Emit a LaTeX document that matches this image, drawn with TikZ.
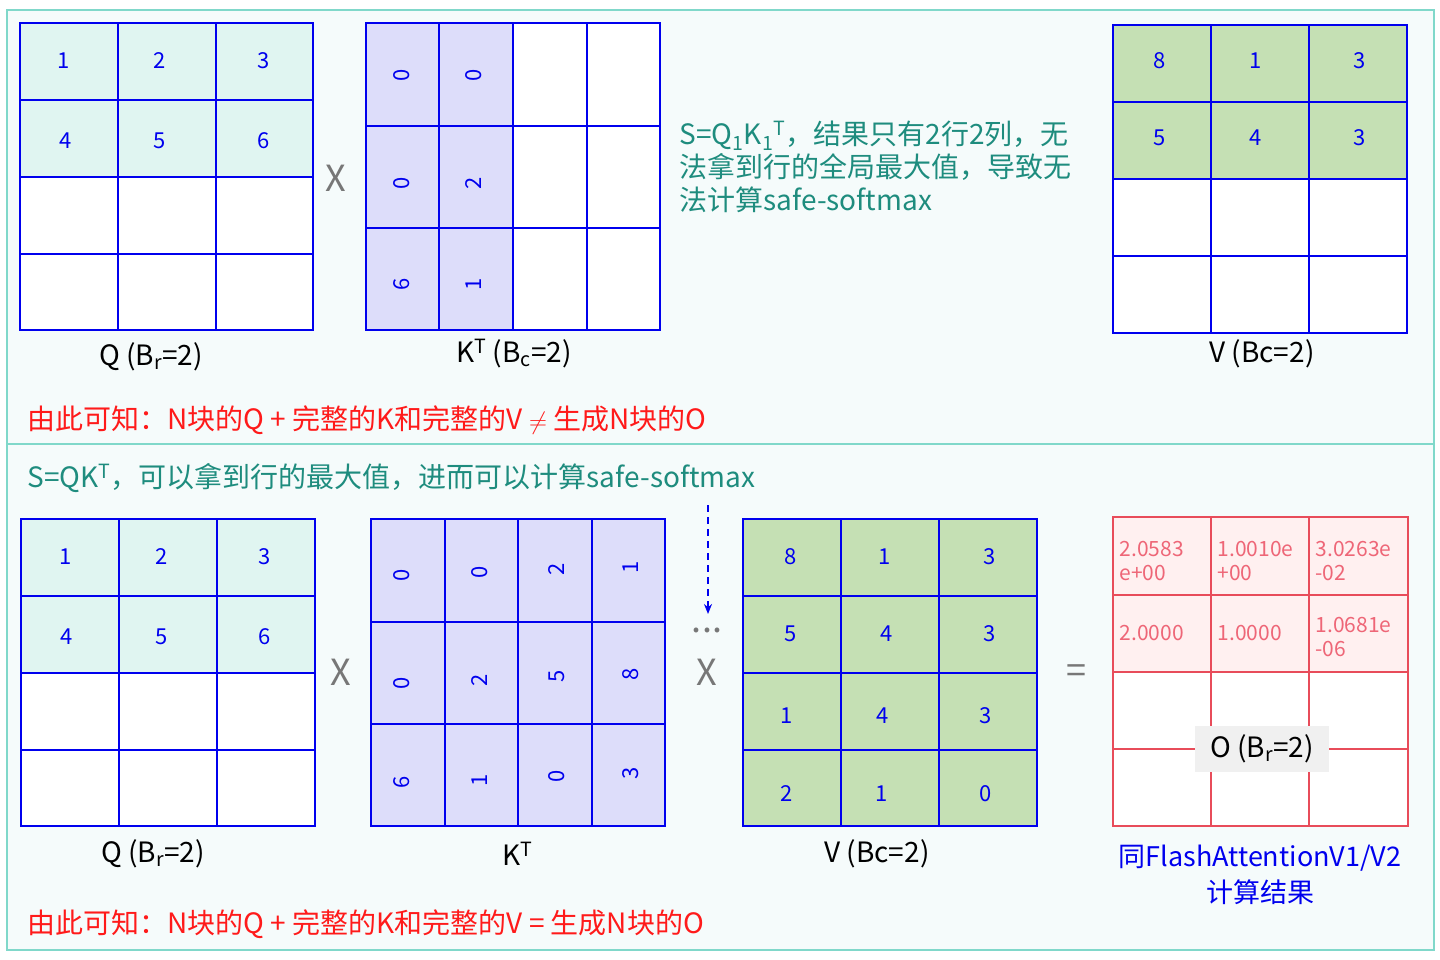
\documentclass[tikz,border=0pt]{standalone}
\usepackage{fontspec}
\setmainfont{Noto Sans CJK SC}
\usetikzlibrary{arrows.meta}
\definecolor{frame}{HTML}{80D8CA}
\definecolor{bgc}{HTML}{F5FBFB}
\definecolor{qf}{HTML}{E0F5F1}
\definecolor{kf}{HTML}{DDDDFA}
\definecolor{vf}{HTML}{C5E0B4}
\definecolor{of}{HTML}{FFF0F0}
\definecolor{oline}{HTML}{E84C5A}
\definecolor{otext}{HTML}{EE6677}
\definecolor{gl}{HTML}{0000EE}
\definecolor{tl}{HTML}{1E8C7E}
\definecolor{rd}{HTML}{FF1A1A}
\definecolor{gx}{HTML}{777777}
\tikzset{
 num/.style={text=gl,font=\fontsize{22}{22}\selectfont},
 rnum/.style={num,rotate=90},
 onum/.style={text=otext,font=\fontsize{21}{24}\selectfont,align=left,anchor=west},
 lbl/.style={font=\fontsize{28}{28}\selectfont},
 op/.style={text=gx,font=\fontsize{36}{36}\selectfont},
 note/.style={font=\fontsize{28}{33}\selectfont,anchor=west},
}
\begin{document}
\begin{tikzpicture}[x=1pt,y=-1pt]
\useasboundingbox (0,0) rectangle (1440,960);
\fill[white] (0,0) rectangle (1440,960);
\draw[frame,line width=2pt,fill=bgc] (7,10) rectangle (1434,950);
\draw[frame,line width=2pt] (7,444) -- (1434,444);
% ---------- top ----------
\fill[qf] (20,23) rectangle (313,177);
\fill[white] (20,177) rectangle (313,330);
\draw[gl,line width=1.2pt] (20,23) rectangle (313,330);
\foreach \x in {118,216} \draw[gl,line width=1.2pt] (\x,23) -- (\x,330);
\foreach \y in {100,177,254} \draw[gl,line width=1.2pt] (20,\y) -- (313,\y);
\node[num] at (64,61) {1}; \node[num] at (160,61) {2}; \node[num] at (264,61) {3};
\node[num] at (66,141) {4}; \node[num] at (160,141) {5}; \node[num] at (264,141) {6};
\node[lbl] at (151,357) {Q (B\textsubscript{r}=2)};
\node[op] at (336,178) {X};
\fill[kf] (366,23) rectangle (513,330);
\fill[white] (513,23) rectangle (660,330);
\draw[gl,line width=1.2pt] (366,23) rectangle (660,330);
\foreach \x in {439,513,587} \draw[gl,line width=1.2pt] (\x,23) -- (\x,330);
\foreach \y in {126,228} \draw[gl,line width=1.2pt] (366,\y) -- (660,\y);
\node[rnum] at (402,75) {0}; \node[rnum] at (474,75) {0};
\node[rnum] at (402,183) {0}; \node[rnum] at (474,183) {2};
\node[rnum] at (402,284) {6}; \node[rnum] at (474,284) {1};
\node[lbl] at (514,354) {K\textsuperscript{T} (B\textsubscript{c}=2)};
\node[note,text=tl] at (676,167) {\parbox{420pt}{S=Q\textsubscript{1}K\textsubscript{1}\textsuperscript{T}，结果只有2行2列，无\\法拿到行的全局最大值，导致无\\法计算safe-softmax}};
\fill[vf] (1113,25) rectangle (1407,179);
\fill[white] (1113,179) rectangle (1407,333);
\draw[gl,line width=1.2pt] (1113,25) rectangle (1407,333);
\foreach \x in {1211,1309} \draw[gl,line width=1.2pt] (\x,25) -- (\x,333);
\foreach \y in {102,179,256} \draw[gl,line width=1.2pt] (1113,\y) -- (1407,\y);
\node[num] at (1160,61) {8}; \node[num] at (1256,61) {1}; \node[num] at (1360,61) {3};
\node[num] at (1160,138) {5}; \node[num] at (1256,138) {4}; \node[num] at (1360,138) {3};
\node[lbl] at (1262,354) {V (Bc=2)};
\node[note,text=rd] at (24,420) {由此可知：N块的Q + 完整的K和完整的V $\neq$ 生成N块的O};
% ---------- bottom ----------
\node[note,text=tl] at (24,478) {S=QK\textsuperscript{T}，可以拿到行的最大值，进而可以计算safe-softmax};
\fill[qf] (21,519) rectangle (315,673);
\fill[white] (21,673) rectangle (315,826);
\draw[gl,line width=1.2pt] (21,519) rectangle (315,826);
\foreach \x in {119,217} \draw[gl,line width=1.2pt] (\x,519) -- (\x,826);
\foreach \y in {596,673,750} \draw[gl,line width=1.2pt] (21,\y) -- (315,\y);
\node[num] at (66,557) {1}; \node[num] at (162,557) {2}; \node[num] at (265,557) {3};
\node[num] at (67,637) {4}; \node[num] at (162,637) {5}; \node[num] at (265,637) {6};
\node[lbl] at (153,854) {Q (B\textsubscript{r}=2)};
\node[op] at (341,672) {X};
\fill[kf] (371,519) rectangle (665,826);
\draw[gl,line width=1.2pt] (371,519) rectangle (665,826);
\foreach \x in {445,518,592} \draw[gl,line width=1.2pt] (\x,519) -- (\x,826);
\foreach \y in {622,724} \draw[gl,line width=1.2pt] (371,\y) -- (665,\y);
\node[rnum] at (402,575) {0}; \node[rnum] at (480,572) {0}; \node[rnum] at (557,569) {2}; \node[rnum] at (631,567) {1};
\node[rnum] at (402,683) {0}; \node[rnum] at (480,680) {2}; \node[rnum] at (557,676) {5}; \node[rnum] at (631,674) {8};
\node[rnum] at (402,782) {6}; \node[rnum] at (480,780) {1}; \node[rnum] at (557,776) {0}; \node[rnum] at (631,773) {3};
\node[lbl] at (518,854) {K\textsuperscript{T}};
\coordinate (as) at (708,505);
\coordinate (ae) at (708,614);
\draw[gl,line width=1.8pt,dash pattern=on 7pt off 5pt,-{Stealth[length=10pt,width=8pt]}] (as) -- (ae);
\node[op] at (707,630) {...};
\node[op] at (707,672) {X};
\fill[vf] (743,519) rectangle (1037,826);
\draw[gl,line width=1.2pt] (743,519) rectangle (1037,826);
\foreach \x in {841,939} \draw[gl,line width=1.2pt] (\x,519) -- (\x,826);
\foreach \y in {596,673,750} \draw[gl,line width=1.2pt] (743,\y) -- (1037,\y);
\node[num] at (791,557) {8}; \node[num] at (885,557) {1}; \node[num] at (990,557) {3};
\node[num] at (791,634) {5}; \node[num] at (887,634) {4}; \node[num] at (990,634) {3};
\node[num] at (787,716) {1}; \node[num] at (883,716) {4}; \node[num] at (986,716) {3};
\node[num] at (787,794) {2}; \node[num] at (882,794) {1}; \node[num] at (986,794) {0};
\node[lbl] at (877,854) {V (Bc=2)};
\node[op] at (1076,674) {=};
\fill[of] (1113,517) rectangle (1408,672);
\fill[white] (1113,672) rectangle (1408,826);
\draw[oline,line width=1.2pt] (1113,517) rectangle (1408,826);
\foreach \x in {1211,1309} \draw[oline,line width=1.2pt] (\x,517) -- (\x,826);
\foreach \y in {595,672,749} \draw[oline,line width=1.2pt] (1113,\y) -- (1408,\y);
\node[onum] at (1116,561) {2.0583\\e+00};
\node[onum] at (1214,561) {1.0010e\\+00};
\node[onum] at (1312,561) {3.0263e\\-02};
\node[onum] at (1116,633) {2.0000};
\node[onum] at (1214,633) {1.0000};
\node[onum] at (1312,637) {1.0681e\\-06};
\node[lbl,fill=black!6,minimum width=134pt,minimum height=46pt] at (1262,749) {O (B\textsubscript{r}=2)};
\node[lbl,text=gl,align=center,font=\fontsize{27}{36}\selectfont] at (1260,875) {同FlashAttentionV1/V2\\计算结果};
\node[note,text=rd] at (24,924) {由此可知：N块的Q + 完整的K和完整的V = 生成N块的O};
\end{tikzpicture}
\end{document}
